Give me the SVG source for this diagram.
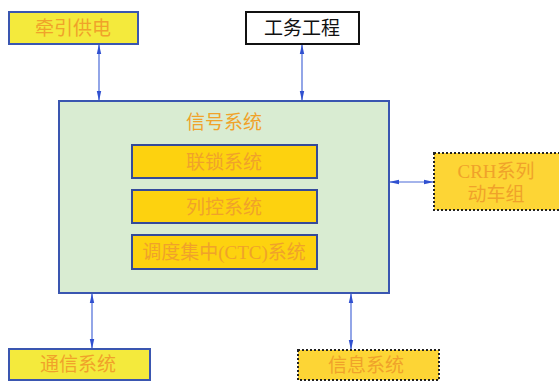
<svg xmlns="http://www.w3.org/2000/svg" width="559" height="381" viewBox="0 0 559 381">
<style>
text{font-family:"Liberation Serif","Noto Sans CJK SC",serif;font-size:19px;text-anchor:middle;dominant-baseline:central}
.t{fill:#f0a22a}
.k{fill:#111}
.yb{fill:#f4ea3c;stroke:#3a56b0;stroke-width:2}
.in{fill:#fdd20f;stroke:#344a9a;stroke-width:2}
.dash{fill:#fdd535;stroke:#222;stroke-width:2;stroke-dasharray:2 2}
.c{stroke:#4a6ad8;stroke-width:1.2;fill:none;marker-start:url(#a);marker-end:url(#a)}
</style>
<defs>
<marker id="a" viewBox="0 0 10 10" refX="9" refY="5" markerWidth="10" markerHeight="10" orient="auto-start-reverse" markerUnits="userSpaceOnUse">
<path d="M0,2.8 L10,5 L0,7.2 z" fill="#3050d0"/>
</marker>
</defs>
<rect width="559" height="381" fill="#fff"/>
<g id="connectors">
<line class="c" x1="99" y1="45" x2="99" y2="100"/>
<line class="c" x1="302" y1="45" x2="302" y2="100"/>
<line class="c" x1="390" y1="182" x2="433" y2="182"/>
<line class="c" x1="92" y1="294" x2="92" y2="348"/>
<line class="c" x1="351" y1="294" x2="351" y2="349"/>
</g>
<g id="qianyin">
<rect class="yb" x="9" y="12" width="129" height="32"/>
<text class="t" x="73" y="28">牵引供电</text>
</g>
<g id="gongwu">
<rect x="246" y="12" width="113" height="32" fill="#fff" stroke="#111" stroke-width="2"/>
<text class="k" x="302" y="28">工务工程</text>
</g>
<g id="xinhao">
<rect x="59" y="101" width="330" height="192" fill="#d9ecd2" stroke="#3a56b0" stroke-width="2"/>
<text class="t" x="224" y="122">信号系统</text>
</g>
<g id="liansuo">
<rect class="in" x="132" y="145" width="185" height="33"/>
<text class="t" x="224" y="162">联锁系统</text>
</g>
<g id="liekong">
<rect class="in" x="132" y="190" width="185" height="33"/>
<text class="t" x="224" y="207">列控系统</text>
</g>
<g id="ctc">
<rect class="in" x="132" y="235" width="185" height="34"/>
<text class="t" x="224" y="252">调度集中(CTC)系统</text>
</g>
<g id="crh">
<rect class="dash" x="434" y="153" width="130" height="57"/>
<text class="t" x="496" y="171">CRH系列</text>
<text class="t" x="496" y="194">动车组</text>
</g>
<g id="tongxin">
<rect class="yb" x="9" y="349" width="141" height="31"/>
<text class="t" x="78" y="364">通信系统</text>
</g>
<g id="xinxi">
<rect class="dash" x="298" y="350" width="141" height="30"/>
<text class="t" x="366" y="365">信息系统</text>
</g>
</svg>
